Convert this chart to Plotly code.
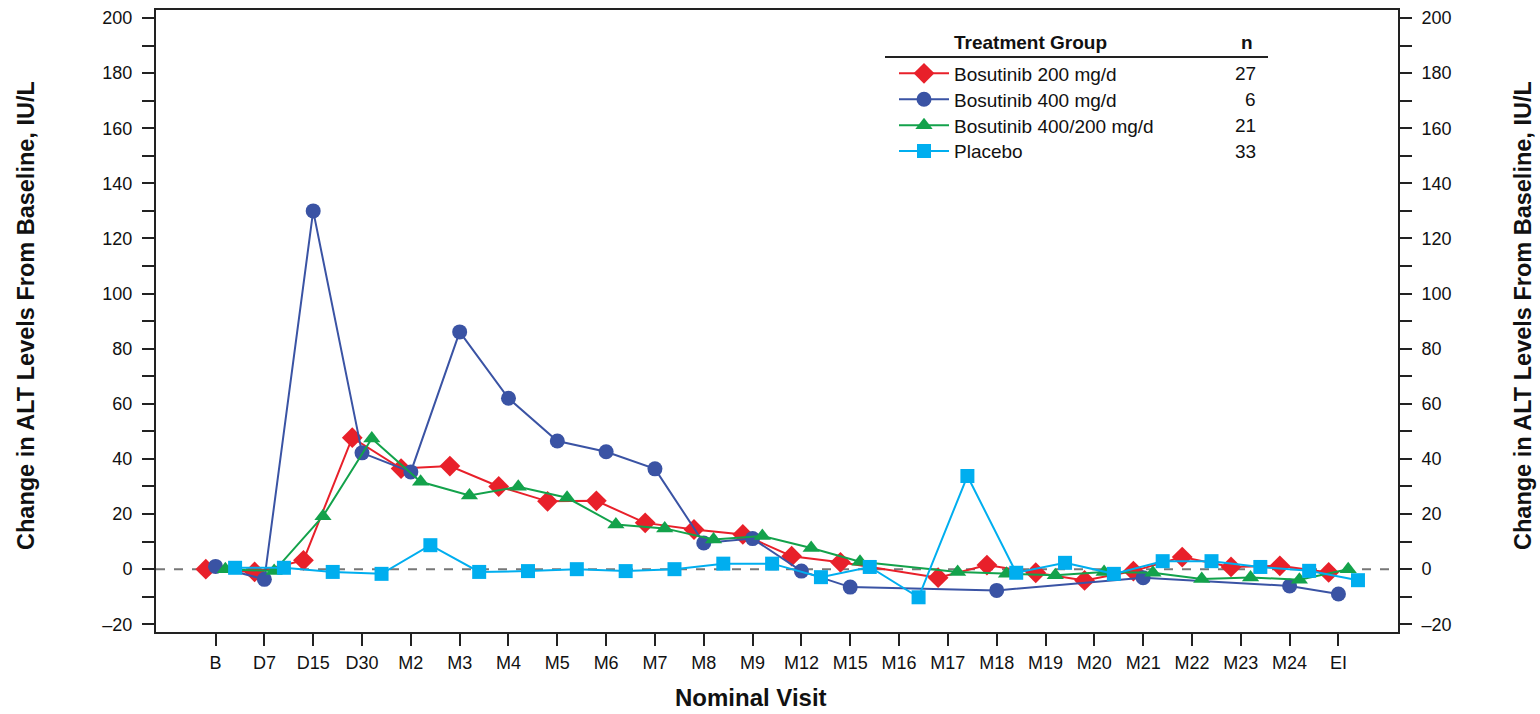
import plotly.graph_objects as go

visits = ["B", "D7", "D15", "D30", "M2", "M3", "M4", "M5", "M6", "M7", "M8", "M9",
          "M12", "M15", "M16", "M17", "M18", "M19", "M20", "M21", "M22", "M23", "M24", "EI"]

groups = ["Bosutinib 200 mg/d", "Bosutinib 400 mg/d", "Bosutinib 400/200 mg/d", "Placebo"]
n_values = [27, 6, 21, 33]

bos200 = [0, -1, 3.2, 47.7, 36.5, 37.4, 30, 24.6, 24.8, 16.8, 14.4, 12.6,
          4.7, 2.5, None, -3.1, 1.5, -1.3, -4.1, -0.7, 4.4, 0.8, 1.2, -1.2]
bos400 = [1, -3.7, 130, 42.2, 35.3, 86.1, 62, 46.5, 42.6, 36.4, 9.5, 11.1,
          -0.7, -6.5, None, None, -7.7, None, None, -3.1, None, None, -6.1, -9]
bos400_200 = [0, -0.7, 19.2, 47.4, 31.7, 26.7, 29.9, 25.9, 16.2, 14.8, 10.8, 12,
              7.7, 2.7, None, -1, -1.7, -2.2, -1, -1.3, -3.6, -3, -3.8, 0]
placebo = [0.5, 0.5, -1, -1.7, 8.7, -1, -0.7, 0, -0.7, 0, 2, 2,
           -2.9, 0.8, -10.2, 33.8, -1.3, 2.3, -1.7, 2.9, 2.9, 0.8, -0.6, -4]

series = [bos200, bos400, bos400_200, placebo]
colors = ["#E8202A", "#3A53A4", "#13A24B", "#00AEEF"]
symbols = ["diamond", "circle", "triangle-up", "square"]
sizes = [16, 15, 15, 14]
offsets = [-0.2, 0.0, 0.2, 0.4]

FONT = "Liberation Sans, Arial, sans-serif"

W, H = 1540, 714
# plot area in screen coordinates
SL, SR, ST, SB = 156, 1398, 10, 632
L, T = SL, ST
R, B = W - SR, H - SB
pw, ph = W - L - R, H - T - B


def px_x(p):
    return (p - L) / pw


def px_y(p):
    return (H - B - p) / ph


legend_ids = ["legend", "legend2", "legend3", "legend4"]

fig = go.Figure()
for k, (name, vals, col, sym, sz, off) in enumerate(zip(groups, series, colors, symbols, sizes, offsets)):
    fig.add_trace(go.Scatter(
        x=[i + off for i in range(len(visits))], y=vals, name=name,
        mode="lines+markers", connectgaps=True,
        line=dict(color=col, width=2),
        marker=dict(symbol=sym, size=sz, color=col, line=dict(width=0)),
        legend=legend_ids[k],
    ))

# invisible trace for right axis
fig.add_trace(go.Scatter(x=[0], y=[0], yaxis="y2", showlegend=False,
                         mode="markers", marker=dict(opacity=0), hoverinfo="skip"))

yrange = [-22.8, 202.9]
axis_common = dict(
    range=yrange, tickvals=list(range(-20, 201, 20)),
    ticktext=["\u201320"] + [str(v) for v in range(0, 201, 20)],
    ticks="outside", ticklen=12, tickwidth=2, tickcolor="#222",
    showline=True, linecolor="#222", linewidth=2, showgrid=False, zeroline=False,
    tickfont=dict(family=FONT, size=18, color="#111"),
    ticklabelstandoff=6,
    minor=dict(tickvals=list(range(-10, 200, 20)), ticks="outside", ticklen=12,
               tickwidth=2, tickcolor="#222"),
)

row_y = [73.5 + k * 25.9 for k in range(4)]
legend_layout = {}
for k, lid in enumerate(legend_ids):
    legend_layout[lid] = dict(
        x=px_x(894), y=px_y(row_y[k] - 19), xanchor="left", yanchor="top",
        bgcolor="rgba(0,0,0,0)", borderwidth=0,
        font=dict(family=FONT, size=19, color="#111"),
        itemwidth=50, tracegroupgap=0,
    )

fig.update_layout(
    width=W, height=H,
    margin=dict(l=L, r=R, t=T, b=B, autoexpand=False),
    plot_bgcolor="white", paper_bgcolor="white",
    xaxis=dict(range=[-1.22, 24.22], tickmode="array",
               tickvals=list(range(len(visits))), ticktext=visits,
               ticks="outside", ticklen=12, tickwidth=2, tickcolor="#222",
               showline=True, linecolor="#222", linewidth=2, mirror=True,
               showgrid=False, zeroline=False, ticklabelstandoff=1,
               tickfont=dict(family=FONT, size=18, color="#111")),
    yaxis=dict(**axis_common),
    yaxis2=dict(**axis_common, overlaying="y", side="right"),
    showlegend=True,
    font=dict(family=FONT),
    **legend_layout,
)

# zero reference line
fig.add_shape(type="line", xref="paper", yref="y", x0=0, x1=1, y0=0, y1=0,
              line=dict(color="#777", width=2, dash="dash"), layer="below")

# legend header
fig.add_annotation(text="<b>Treatment Group</b>", xref="paper", yref="paper",
                   x=px_x(952), y=px_y(42), xanchor="left", yanchor="middle",
                   showarrow=False, font=dict(family=FONT, size=19, color="#111"))
fig.add_annotation(text="<b>n</b>", xref="paper", yref="paper",
                   x=px_x(1247), y=px_y(42), xanchor="center", yanchor="middle",
                   showarrow=False, font=dict(family=FONT, size=19, color="#111"))
fig.add_shape(type="line", xref="paper", yref="paper",
              x0=px_x(885), x1=px_x(1268), y0=px_y(57), y1=px_y(57),
              line=dict(color="#222", width=2))
for k, n in enumerate(n_values):
    fig.add_annotation(text=str(n), xref="paper", yref="paper",
                       x=px_x(1258), y=px_y(row_y[k]), xanchor="right", yanchor="middle",
                       showarrow=False, font=dict(family=FONT, size=19, color="#111"))

# axis titles
ytitle = "<b>Change in ALT Levels From Baseline, IU/L</b>"
fig.add_annotation(text=ytitle, xref="paper", yref="paper", x=px_x(26), y=px_y(316),
                   textangle=-90, showarrow=False, xanchor="center", yanchor="middle",
                   font=dict(family=FONT, size=23.5, color="#111"))
fig.add_annotation(text=ytitle, xref="paper", yref="paper", x=px_x(1523), y=px_y(316),
                   textangle=-90, showarrow=False, xanchor="center", yanchor="middle",
                   font=dict(family=FONT, size=23.5, color="#111"))
fig.add_annotation(text="<b>Nominal Visit</b>", xref="paper", yref="paper",
                   x=px_x(751), y=px_y(697), showarrow=False, xanchor="center", yanchor="middle",
                   font=dict(family=FONT, size=24, color="#111"))

fig.write_html("out.html", config={"displayModeBar": False},
               post_script="document.body.style.margin='0px';")
